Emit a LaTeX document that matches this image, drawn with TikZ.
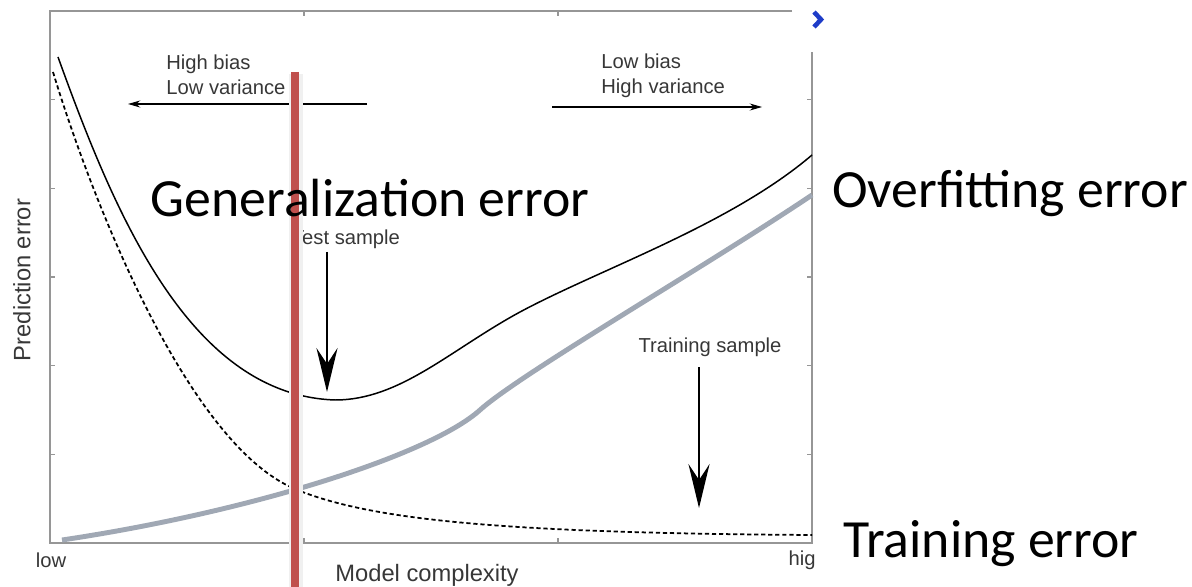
\documentclass[tikz,border=0pt]{standalone}
\usepackage{fontspec}
\setmainfont{Liberation Sans}
\newfontfamily\bigfont{Carlito}
\usetikzlibrary{arrows.meta}
\definecolor{redline}{RGB}{192,80,77}
\definecolor{graycurve}{RGB}{160,168,180}
\definecolor{axisgray}{RGB}{150,150,150}
\definecolor{labelgray}{RGB}{55,55,55}
\definecolor{chevron}{RGB}{30,60,200}

\begin{document}
\begin{tikzpicture}[x=0.02cm,y=-0.02cm,
    small/.style={font=\fontsize{11.5}{14.5}\selectfont,text=labelgray,inner sep=0pt},
    axislabel/.style={font=\fontsize{13.5}{16}\selectfont,text=labelgray,inner sep=0pt},
    big/.style={font=\bigfont\fontsize{30.6}{36}\selectfont,inner sep=0pt,anchor=base,text depth=0pt},
    thinarrow/.style={-{Stealth[length=7pt,width=4pt]},line width=0.6pt},
    bigarrow/.style={-{Stealth[length=25pt,width=12pt,inset=9pt]},line width=1.3pt}]
  \useasboundingbox (0,0) rectangle (1192,587);
  % frame and ticks
  \draw[axisgray,line width=0.8pt] (792,11)--(50,11)--(50,543)--(812,543)--(812,52);
  \foreach \y in {99.7,188.3,277,365.7,454.3} {
    \draw[axisgray,line width=0.6pt] (50,\y)--(55,\y);
    \draw[axisgray,line width=0.6pt] (807,\y)--(812,\y);
  }
  \foreach \x in {304,558} {
    \draw[axisgray,line width=0.6pt] (\x,543)--(\x,538);
    \draw[axisgray,line width=0.6pt] (\x,11)--(\x,16);
  }
  \draw[chevron,line width=2.6pt] (814,12)--(821,19.5)--(814,27);
  % curves
  \draw[line width=0.85pt] (58,57) .. controls (115,215) and (190,395) .. (335,400)
    .. controls (400,400) and (450,350) .. (520,312)
    .. controls (600,269) and (730,225) .. (812,155);
  \draw[line width=1pt,dash pattern=on 2.4pt off 1.6pt] (53,72) .. controls (95,210) and (190,445) .. (295,489)
    .. controls (370,520) and (500,533) .. (812,535);
  \draw[graycurve,line width=2.8pt] (62,540) .. controls (250,512) and (430,455) .. (480,410)
    .. controls (520,374) and (700,270) .. (812,195);
  % small labels and arrows
  \node[small,anchor=west,align=left] (hb) at (166,75) {High bias\\Low variance};
  \node[small,anchor=west,align=left] (lb) at (601,76) {Low bias\\High variance};
  \coordinate (hbstart) at (367,104);
  \coordinate (hbend) at (128,104);
  \draw[thinarrow] (hbstart) -- (hbend);
  \coordinate (lbstart) at (552,107);
  \coordinate (lbend) at (762,107);
  \draw[thinarrow] (lbstart) -- (lbend);
  \node[small] (test) at (346,239) {Test sample};
  \coordinate (teststart) at (327,252);
  \coordinate (testend) at (327,392);
  \draw[bigarrow] (teststart) -- (testend);
  \node[small] (train) at (710,347) {Training sample};
  \coordinate (trainstart) at (699,367);
  \coordinate (trainend) at (699,508);
  \draw[bigarrow] (trainstart) -- (trainend);
  \node[axislabel] (xlab) at (427,575) {Model complexity};
  \node[small] (low) at (51,560) {low};
  \node[small] (high) at (802,560) {hig};
  \node[axislabel,rotate=90] (ylab) at (22,280) {Prediction error};
  % highlight line
  \draw[black!6,line width=8pt] (296,74)--(296,587);
  \draw[redline,line width=4.5pt] (295,72)--(295,587);
  % big labels
  \node[big] (gen) at (370,217) {Generalization error};
  \node[big] (over) at (1010,208) {Overfitting error};
  \node[big] (trerr) at (991,557) {Training error};
\end{tikzpicture}
\end{document}
